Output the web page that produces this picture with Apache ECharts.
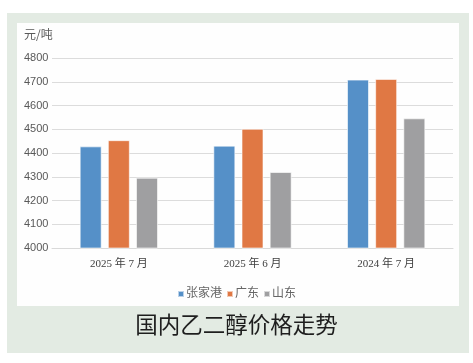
<!DOCTYPE html>
<html><head><meta charset="utf-8">
<script src="https://cdn.jsdelivr.net/npm/echarts@6/dist/echarts.min.js"></script>
<style>html,body{margin:0;padding:0;background:#fff}#c{width:473px;height:363px}</style>
</head><body><div id="c"></div>
<script>
var categories = ['2025 年 7 月', '2025 年 6 月', '2024 年 7 月'];
var zhangjiagang = [4428, 4431, 4709];
var guangdong = [4454, 4502, 4712];
var shandong = [4296, 4320, 4546];
var seriesNames = ['张家港', '广东', '山东'];
var colors = ['#5590c8', '#e07844', '#9f9fa1'];
var chartTitle = '国内乙二醇价格走势';
var unitLabel = '元/吨';

var chart = echarts.init(document.getElementById('c'), null, {renderer: 'canvas'});
var serifFont = '"Liberation Serif", "DejaVu Serif", "Noto Sans CJK SC", serif';
var sansFont = '"Noto Sans CJK SC", "Liberation Sans", sans-serif';
function mk(name, data, i) {
  return {
    name: name, type: 'bar', data: data, barWidth: 22, barGap: '28%',
    itemStyle: {color: colors[i], borderColor: 'rgba(255,255,255,0.6)', borderWidth: 1},
    emphasis: {disabled: true}, z: 3
  };
}
chart.setOption({
  animation: false,
  color: colors,
  graphic: [
    {type: 'rect', shape: {x: 7, y: 13, width: 462, height: 340}, style: {fill: '#e3ebe3'}, z: -10, silent: true},
    {type: 'rect', shape: {x: 17, y: 23, width: 442, height: 283}, style: {fill: '#fefefe'}, z: -9, silent: true},
    {type: 'text', left: 24, top: 28, style: {text: unitLabel, font: '12px ' + sansFont, fill: '#595959'}, z: 5},
    {type: 'text', left: 'center', top: 313, style: {text: chartTitle, font: '22.5px ' + sansFont, fill: '#1e1e1e'}, z: 5}
  ],
  legend: {
    data: seriesNames, bottom: 58, left: 'center', icon: 'rect', itemWidth: 6, itemHeight: 6, itemGap: 4,
    textStyle: {fontSize: 12, color: '#666', fontFamily: serifFont, padding: [0, 0, 0, -3]}
  },
  grid: {left: 52, right: 20, top: 58, bottom: 115, containLabel: false},
  xAxis: {
    type: 'category', data: categories,
    axisLine: {show: true, lineStyle: {color: '#d9d9d9', width: 1}},
    axisTick: {show: false},
    axisLabel: {fontSize: 11, color: '#404040', fontFamily: serifFont, margin: 11}
  },
  yAxis: {
    type: 'value', min: 4000, max: 4800, interval: 100,
    axisLine: {show: false}, axisTick: {show: false},
    axisLabel: {fontSize: 11, color: '#595959', align: 'left', margin: 28, fontFamily: '"Liberation Sans", Arial, sans-serif',
      formatter: function (v) { return String(v); }},
    splitLine: {lineStyle: {color: '#dcdcdc', width: 1}}
  },
  series: [mk(seriesNames[0], zhangjiagang, 0), mk(seriesNames[1], guangdong, 1), mk(seriesNames[2], shandong, 2)]
});
</script></body></html>
